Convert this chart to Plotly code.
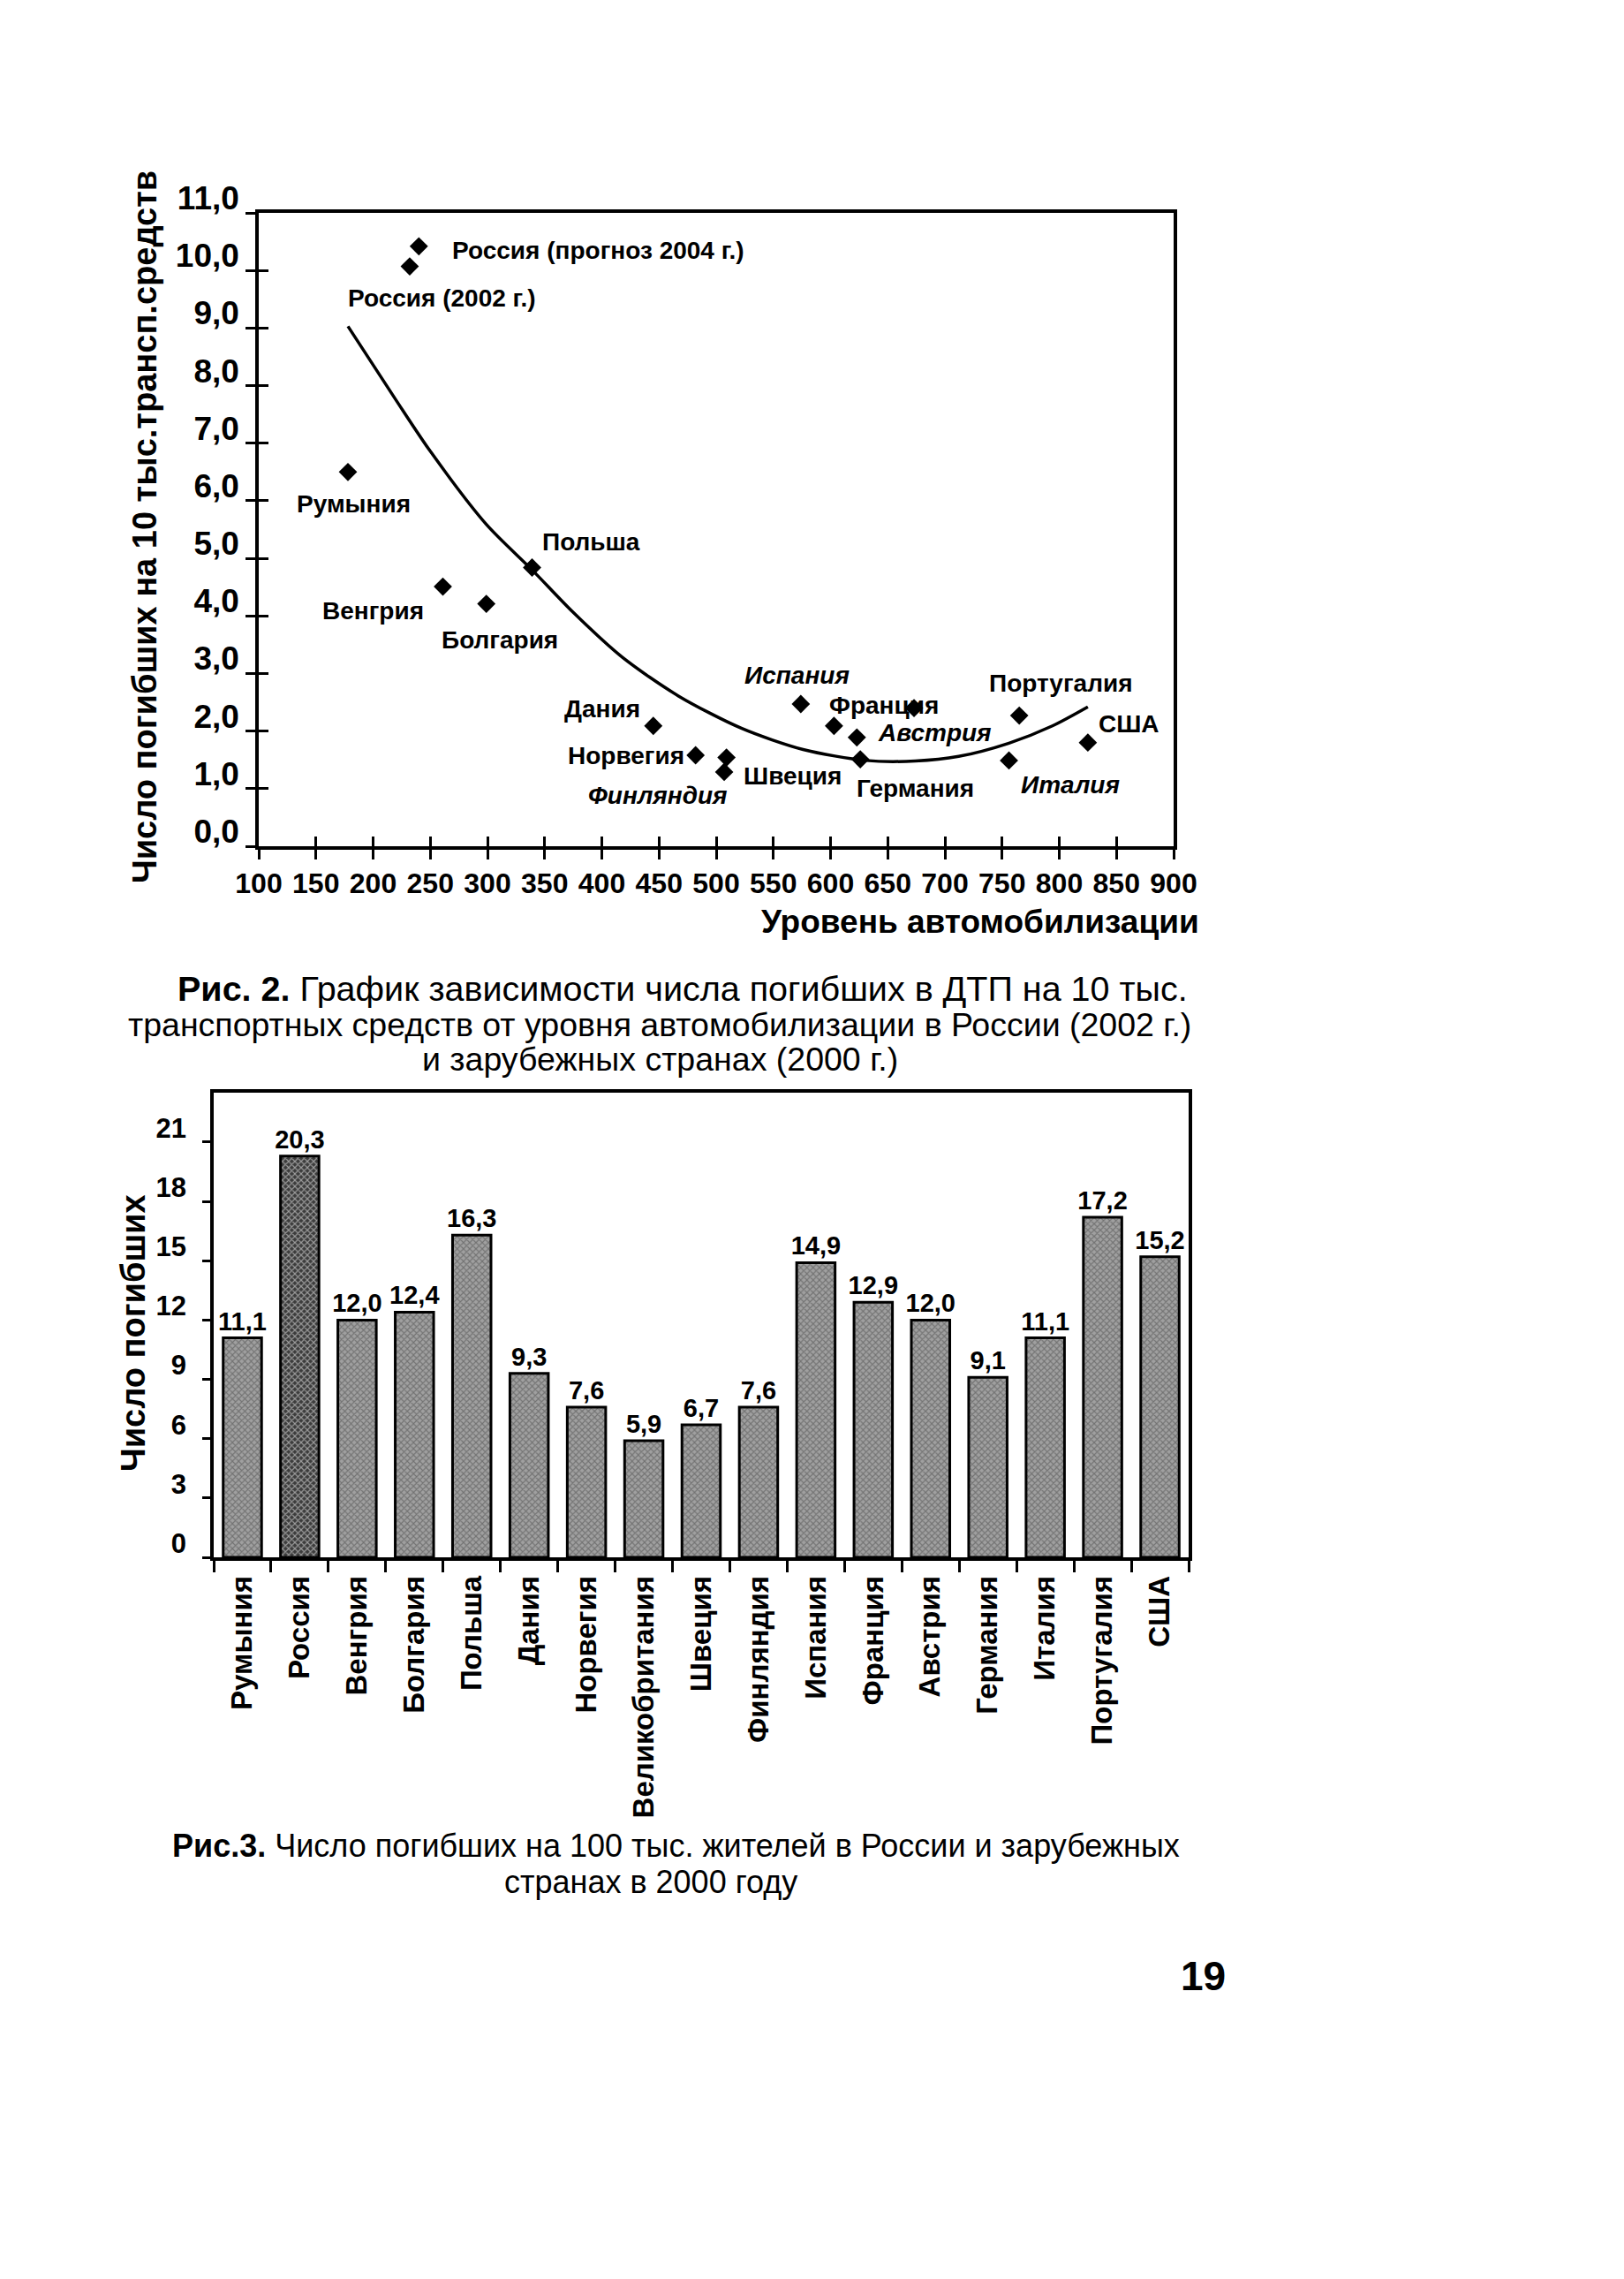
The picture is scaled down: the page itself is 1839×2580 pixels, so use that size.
import plotly.graph_objects as go

# ---------------- Figure 2 (scatter) data ----------------
scatter_names = ["Россия (2002 г.)", "Россия (прогноз 2004 г.)", "Румыния", "Польша", "Венгрия",
                 "Болгария", "Дания", "Норвегия", "Швеция", "Финляндия", "Испания", "Франция",
                 "Австрия", "Германия", "Великобритания", "Португалия", "Италия", "США"]
motorization = [232, 240, 178, 339, 261, 299, 445, 482, 509, 507, 574, 603, 623, 626, 673, 765, 756, 825]
deaths_per_10k = [10.07, 10.42, 6.50, 4.84, 4.51, 4.21, 2.09, 1.58, 1.54, 1.29, 2.47, 2.09, 1.89, 1.51,
                  2.40, 2.27, 1.49, 1.80]
# label shown next to each point ("" = no label)
scatter_labels = ["Россия (2002 г.)", "Россия (прогноз 2004 г.)", "Румыния", "Польша", "Венгрия",
                  "Болгария", "Дания", "Норвегия", "Швеция", "Финляндия", "Испания", "Франция",
                  "Австрия", "Германия", "", "Португалия", "Италия", "США"]

# trend line
trend_x = [178, 220, 250, 299, 339, 375, 418, 467, 522, 576, 631, 674, 712, 756, 794, 825]
trend_y = [9.03, 7.75, 6.86, 5.59, 4.80, 4.06, 3.28, 2.61, 2.05, 1.68, 1.49, 1.48, 1.56, 1.79, 2.09, 2.42]

scatter_xticks = [100, 150, 200, 250, 300, 350, 400, 450, 500, 550, 600, 650, 700, 750, 800, 850, 900]
scatter_yticks = [0, 1, 2, 3, 4, 5, 6, 7, 8, 9, 10, 11]
scatter_ytick_text = ["0,0", "1,0", "2,0", "3,0", "4,0", "5,0", "6,0", "7,0", "8,0", "9,0", "10,0", "11,0"]

# ---------------- Figure 3 (bars) data ----------------
bar_countries = ["Румыния", "Россия", "Венгрия", "Болгария", "Польша", "Дания", "Норвегия",
                 "Великобритания", "Швеция", "Финляндия", "Испания", "Франция", "Австрия",
                 "Германия", "Италия", "Португалия", "США"]
deaths_per_100k = [11.1, 20.3, 12.0, 12.4, 16.3, 9.3, 7.6, 5.9, 6.7, 7.6, 14.9, 12.9, 12.0, 9.1, 11.1, 17.2, 15.2]
bar_yticks = [0, 3, 6, 9, 12, 15, 18, 21]

# ---------------- styles ----------------
FONT = "Liberation Sans, Arial, sans-serif"
OFF = 8              # the page body keeps its default 8 px margin
FW, FH = 1820, 2556  # figure size


def px(x):
    """page pixel x -> paper fraction"""
    return (x - OFF) / FW


def py(y):
    """page pixel y -> paper fraction"""
    return 1 - (y - OFF) / FH


label_style = {
    "Россия (2002 г.)": dict(xanchor="center", dx=37, dy=-36, italic=False),
    "Россия (прогноз 2004 г.)": dict(xanchor="left", dx=36, dy=-5, italic=False),
    "Румыния": dict(xanchor="center", dx=6, dy=-36, italic=False),
    "Польша": dict(xanchor="left", dx=9, dy=29, italic=False),
    "Венгрия": dict(xanchor="right", dx=-20, dy=-27, italic=False),
    "Болгария": dict(xanchor="center", dx=15, dy=-41, italic=False),
    "Дания": dict(xanchor="right", dx=-13, dy=19, italic=False),
    "Норвегия": dict(xanchor="right", dx=-11, dy=0, italic=False),
    "Швеция": dict(xanchor="left", dx=17, dy=-21, italic=False),
    "Финляндия": dict(xanchor="right", dx=6, dy=-27, italic=True),
    "Испания": dict(xanchor="center", dx=-4, dy=33, italic=True),
    "Франция": dict(xanchor="left", dx=-7, dy=23, italic=False),
    "Австрия": dict(xanchor="left", dx=22, dy=5, italic=True),
    "Германия": dict(xanchor="left", dx=-6, dy=-33, italic=False),
    "Португалия": dict(xanchor="center", dx=47, dy=37, italic=False),
    "Италия": dict(xanchor="left", dx=11, dy=-28, italic=True),
    "США": dict(xanchor="left", dx=10, dy=21, italic=False),
}

fig = go.Figure()

fig.add_trace(go.Scatter(x=trend_x, y=trend_y, mode="lines", xaxis="x", yaxis="y",
                         line=dict(color="black", width=3.5, shape="spline", smoothing=0.8),
                         hoverinfo="skip", showlegend=False))
fig.add_trace(go.Scatter(x=motorization, y=deaths_per_10k, mode="markers", xaxis="x", yaxis="y",
                         marker=dict(symbol="diamond", size=16, color="black"),
                         text=scatter_names, showlegend=False))
fig.add_trace(go.Scatter(x=[None], y=[None], xaxis="x3", yaxis="y3", showlegend=False, hoverinfo="skip"))

bar_bg = ["#3c3c3c" if c == "Россия" else "#a0a0a0" for c in bar_countries]
bar_fg = ["#000000" if c == "Россия" else "#2e2e2e" for c in bar_countries]
fig.add_trace(go.Bar(
    x=bar_countries, y=deaths_per_100k, xaxis="x2", yaxis="y2",
    marker=dict(color=bar_bg, line=dict(color="black", width=3),
                pattern=dict(shape="x", size=5, solidity=0.4, fgcolor=bar_fg, bgcolor=bar_bg)),
    text=[f"{v:.1f}".replace(".", ",") for v in deaths_per_100k],
    textposition="outside", cliponaxis=False, constraintext="none",
    textfont=dict(family=FONT, size=29, color="black", weight="bold"),
    showlegend=False))

sx = [px(293), px(1329)]
sy = [py(958), py(241)]
bx = [px(242), px(1346)]
by = [py(1763), py(1237)]

xtickfont = dict(family=FONT, size=32, color="black", weight="bold")
ytickfont = dict(family=FONT, size=37, color="black", weight="bold")
tickfont_bar = dict(family=FONT, size=31, color="black", weight="bold")
cattickfont = dict(family=FONT, size=33, color="black", weight="bold")

fig.update_layout(
    width=FW, height=FH, margin=dict(l=0, r=0, t=0, b=0),
    paper_bgcolor="white", plot_bgcolor="white",
    bargap=0.33,
    xaxis=dict(domain=sx, anchor="y", range=[100, 900], tickvals=scatter_xticks, automargin=False,
               ticks="outside", ticklen=11, tickwidth=3, tickcolor="black",
               showline=True, linewidth=3.5, linecolor="black", mirror=True,
               showgrid=False, zeroline=False, tickfont=xtickfont, ticklabelstandoff=0),
    yaxis=dict(domain=sy, anchor="x", range=[0, 11], tickvals=scatter_yticks, ticktext=scatter_ytick_text,
               automargin=False,
               ticks="outside", ticklen=11, tickwidth=3, tickcolor="black",
               showline=True, linewidth=3.5, linecolor="black", mirror=True,
               showgrid=False, zeroline=False, tickfont=ytickfont, ticklabelshift=-17),
    xaxis3=dict(overlaying="x", anchor="y", range=[100, 900], tickvals=scatter_xticks, automargin=False,
                ticks="inside", ticklen=11, tickwidth=3, tickcolor="black",
                showticklabels=False, showline=False, showgrid=False, zeroline=False),
    yaxis3=dict(overlaying="y", anchor="x", range=[0, 11], tickvals=scatter_yticks, automargin=False,
                ticks="inside", ticklen=11, tickwidth=3, tickcolor="black",
                showticklabels=False, showline=False, showgrid=False, zeroline=False),
    xaxis2=dict(domain=bx, anchor="y2", type="category", tickson="boundaries", automargin=False,
                ticks="outside", ticklen=13, tickwidth=3, tickcolor="black",
                showline=True, linewidth=3.5, linecolor="black", mirror=True,
                showgrid=False, zeroline=False, tickangle=-90, tickfont=cattickfont,
                ticklabelstandoff=4),
    yaxis2=dict(domain=by, anchor="x2", range=[0, 23.5], tickvals=bar_yticks, automargin=False,
                ticks="outside", ticklen=9, tickwidth=3, tickcolor="black",
                showline=True, linewidth=3.5, linecolor="black", mirror=True,
                showgrid=False, zeroline=False, tickfont=tickfont_bar,
                ticklabelshift=-16, ticklabelstandoff=12),
)

ann = []
for name, xv, yv, lab in zip(scatter_names, motorization, deaths_per_10k, scatter_labels):
    if not lab:
        continue
    st = label_style[lab]
    txt = f"<b>{lab}</b>"
    if st["italic"]:
        txt = f"<i>{txt}</i>"
    ann.append(dict(x=xv, y=yv, xref="x", yref="y", text=txt, showarrow=False,
                    xanchor=st["xanchor"], yanchor="middle", xshift=st["dx"], yshift=st["dy"],
                    font=dict(family=FONT, size=28, color="black")))

ytitle_font = dict(family=FONT, size=38, color="black", weight="bold")
xtitle_font = dict(family=FONT, size=37, color="black", weight="bold")
ann.append(dict(x=px(164), y=py(597), xref="paper", yref="paper", showarrow=False, textangle=-90,
                text="Число погибших на 10 тыс.трансп.средств", font=ytitle_font,
                xanchor="center", yanchor="middle"))
ann.append(dict(x=px(1360), y=py(1043), xref="paper", yref="paper", showarrow=False,
                text="Уровень автомобилизации", font=xtitle_font, xanchor="right", yanchor="middle"))
ann.append(dict(x=px(151), y=py(1509), xref="paper", yref="paper", showarrow=False, textangle=-90,
                text="Число погибших", font=ytitle_font, xanchor="center", yanchor="middle"))

captions = [
    (773, 1119, 39.5, "<b>Рис. 2.</b> График зависимости числа погибших в ДТП на 10 тыс."),
    (747, 1160, 37.5, "транспортных средств от уровня автомобилизации в России (2002 г.)"),
    (747, 1199, 37.5, "и зарубежных странах (2000 г.)"),
    (765, 2089, 36, "<b>Рис.3.</b> Число погибших на 100 тыс. жителей в России и зарубежных"),
    (737, 2130, 36, "странах в 2000 году"),
]
for cx, cy, fs, t in captions:
    ann.append(dict(x=px(cx), y=py(cy), xref="paper", yref="paper", showarrow=False, text=t,
                    font=dict(family=FONT, size=fs, color="black"), xanchor="center", yanchor="middle"))

ann.append(dict(x=px(1362), y=py(2237), xref="paper", yref="paper", showarrow=False, text="<b>19</b>",
                font=dict(family=FONT, size=46, color="black"), xanchor="center", yanchor="middle"))

fig.update_layout(annotations=ann)

fig.write_html("out.html")
